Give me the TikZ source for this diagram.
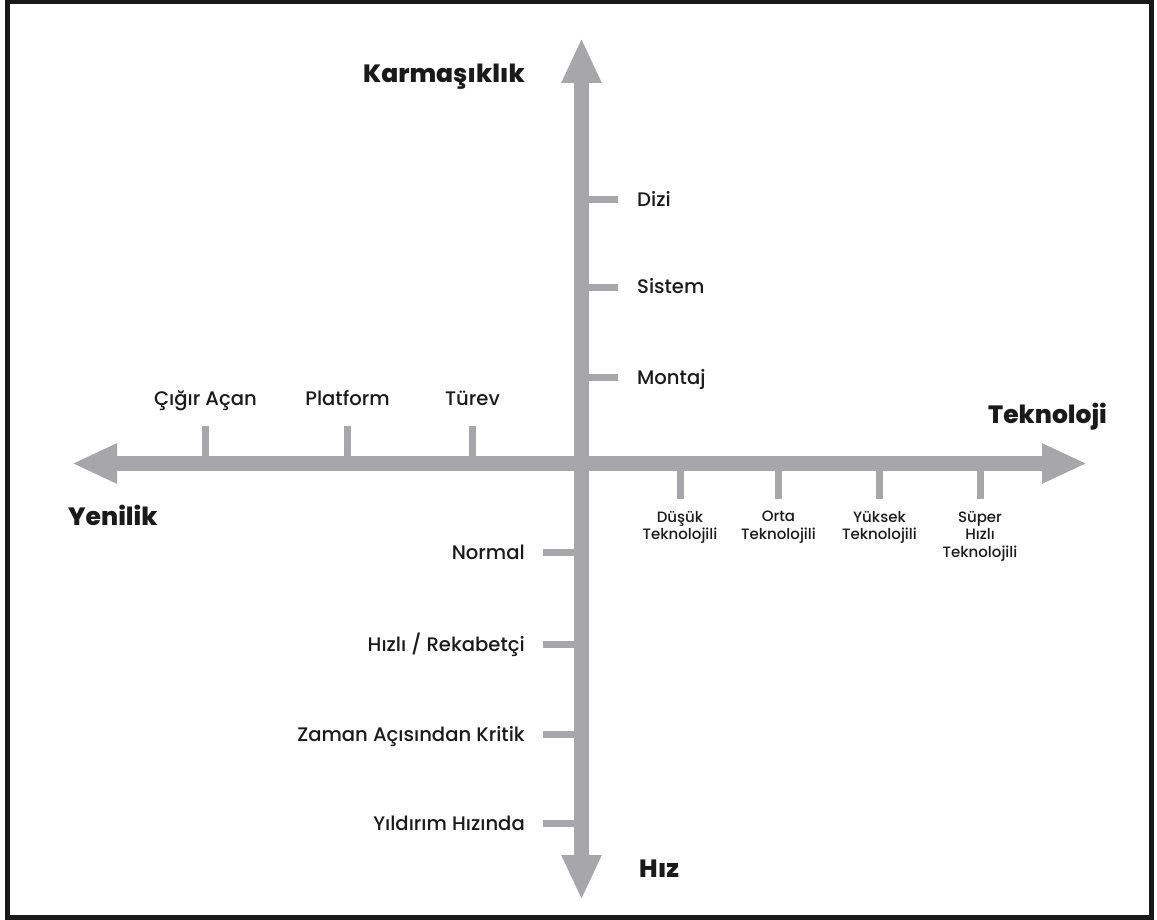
\documentclass[tikz,border=0pt]{standalone}
\usepackage{fontspec}
\setmainfont{Poppins}
\newfontfamily\medfont{Poppins Medium}
\newfontfamily\heavyfont{Poppins ExtraBold}
\usetikzlibrary{arrows.meta}
\definecolor{axisgray}{RGB}{167,167,169}
\definecolor{ink}{RGB}{26,26,26}
\begin{document}
\begin{tikzpicture}[x=1pt,y=-1pt,
  axis/.style={draw=axisgray, line width=15pt,
    {Triangle[length=45pt,width=37pt]}-{Triangle[length=45pt,width=37pt]}},
  tickmark/.style={draw=axisgray, line width=7pt},
  lbl/.style={text=ink, inner sep=0pt, font=\medfont\fontsize{19.6}{23}\selectfont},
  sublbl/.style={text=ink, inner sep=0pt, align=center, font=\medfont\fontsize{15}{17.5}\selectfont},
  axtitle/.style={text=ink, inner sep=0pt, font=\heavyfont\fontsize{25}{30}\selectfont}]
\useasboundingbox (0,0) rectangle (1157,920);
\fill[white] (0,0) rectangle (1157,920);
% frame
\draw[line width=5pt, draw=ink] (7,2) rectangle (1151.5,917);

% axes
\coordinate (left)   at (72,463.5);
\coordinate (right)  at (1087,463.5);
\coordinate (top)    at (581.5,38);
\coordinate (bottom) at (581.5,900);
\draw[axis] (left) -- (right);
\draw[axis] (top) -- (bottom);

% axis titles
\node[axtitle, anchor=base east] (tKarm) at (525,83) {Karmaşıklık};
\node[axtitle, anchor=base west] (tTek)  at (988,423) {Teknoloji};
\node[axtitle, anchor=base west] (tYen)  at (68,525) {Yenilik};
\node[axtitle, anchor=base west] (tHiz)  at (639,877) {Hız};

% complexity ticks (up)
\foreach \y/\n/\t in {200/dizi/Dizi, 287/sistem/Sistem, 377/montaj/Montaj}{
  \coordinate (\n a) at (581.5,\y);
  \coordinate (\n b) at (618,\y);
  \draw[tickmark] (\n a) -- (\n b);
  \node[lbl, anchor=base west] (\n) at (637,\y+7) {\t};
}

% pace ticks (down)
\foreach \y/\n/\t in {552/normal/{Normal}, 644/hizli/{Hızlı / Rekabetçi},
                      734/zaman/{Zaman Açısından Kritik}, 823/yildirim/{Yıldırım Hızında}}{
  \coordinate (\n a) at (581.5,\y);
  \coordinate (\n b) at (543,\y);
  \draw[tickmark] (\n a) -- (\n b);
  \node[lbl, anchor=base east] (\n) at (525,\y+7) {\t};
}

% novelty ticks (left)
\foreach \x/\n/\t in {205.5/cigir/Çığır Açan, 347.5/platform/Platform, 472.5/turev/Türev}{
  \coordinate (\n a) at (\x,463.5);
  \coordinate (\n b) at (\x,426);
  \draw[tickmark] (\n a) -- (\n b);
  \node[lbl, anchor=base] (\n) at (\x,405) {\t};
}

% technology ticks (right)
\foreach \x/\n/\t in {680/dusuk/Düşük\\Teknolojili, 778.5/orta/Orta\\Teknolojili,
                      879.5/yuksek/Yüksek\\Teknolojili, 980/super/Süper\\Hızlı\\Teknolojili}{
  \coordinate (\n a) at (\x,463.5);
  \coordinate (\n b) at (\x,499);
  \draw[tickmark] (\n a) -- (\n b);
  \node[sublbl, anchor=north] (\n) at (\x,511) {\t};
}
\end{tikzpicture}
\end{document}
